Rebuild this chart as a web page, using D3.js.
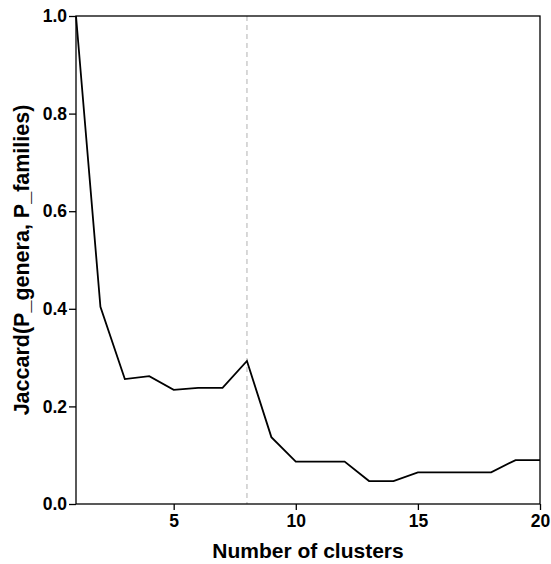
<!DOCTYPE html>
<html>
<head>
<meta charset="utf-8">
<script src="https://cdn.jsdelivr.net/npm/d3@7"></script>
<style>
  body { margin: 0; background: #fff; }
  text { font-family: "Liberation Sans", Arial, sans-serif; font-weight: bold; }
</style>
</head>
<body>
<div id="chart"></div>
<script>
// number of clusters vs Jaccard similarity
const clusters = [1, 2, 3, 4, 5, 6, 7, 8, 9, 10, 11, 12, 13, 14, 15, 16, 17, 18, 19, 20];
const jaccard = [1.0, 0.404, 0.256, 0.262, 0.234, 0.238, 0.238, 0.293, 0.137, 0.087,
                 0.087, 0.087, 0.047, 0.047, 0.065, 0.065, 0.065, 0.065, 0.090, 0.090];
const xTicks = [5, 10, 15, 20];
const yTicks = [0, 0.2, 0.4, 0.6, 0.8, 1.0];
const cutoff = 8;

const W = 551, H = 564;
const margin = { top: 16, right: 11, bottom: 60, left: 76 };
const width = W - margin.left - margin.right;
const height = H - margin.top - margin.bottom;

const svg = d3.select("#chart").append("svg")
  .attr("width", W)
  .attr("height", H);

const g = svg.append("g")
  .attr("transform", `translate(${margin.left},${margin.top})`);

const x = d3.scaleLinear().domain([1, 20]).range([0, width]);
const y = d3.scaleLinear().domain([0, 1]).range([height, 0]);

// dashed marker at chosen cluster count
g.append("line")
  .attr("x1", x(cutoff)).attr("x2", x(cutoff))
  .attr("y1", 0).attr("y2", height)
  .attr("stroke", "#cccccc")
  .attr("stroke-width", 1.5)
  .attr("stroke-dasharray", "5,4");

const line = d3.line()
  .x((d, i) => x(clusters[i]))
  .y(d => y(d));

g.append("path")
  .datum(jaccard)
  .attr("fill", "none")
  .attr("stroke", "#000")
  .attr("stroke-width", 1.8)
  .attr("d", line);

// frame
g.append("rect")
  .attr("width", width).attr("height", height)
  .attr("fill", "none")
  .attr("stroke", "#000")
  .attr("stroke-width", 1.3);

const xAxis = g.append("g")
  .attr("transform", `translate(0,${height})`)
  .call(d3.axisBottom(x).tickValues(xTicks).tickSize(6).tickPadding(5).tickFormat(d3.format("d")));
const yAxis = g.append("g")
  .call(d3.axisLeft(y).tickValues(yTicks).tickSize(7).tickPadding(2).tickFormat(d3.format(".1f")));

[xAxis, yAxis].forEach(a => {
  a.select(".domain").remove();
  a.selectAll("line").attr("stroke", "#000").attr("stroke-width", 1.3);
  a.selectAll("text").attr("fill", "#000").style("font-size", "17.5px");
});

svg.append("text")
  .attr("x", margin.left + width / 2)
  .attr("y", 558)
  .attr("text-anchor", "middle")
  .style("font-size", "21px")
  .text("Number of clusters");

svg.append("text")
  .attr("transform", `translate(29,${margin.top + height / 2}) rotate(-90)`)
  .attr("text-anchor", "middle")
  .style("font-size", "21.5px")
  .text("Jaccard(P_genera, P_families)");
</script>
</body>
</html>
